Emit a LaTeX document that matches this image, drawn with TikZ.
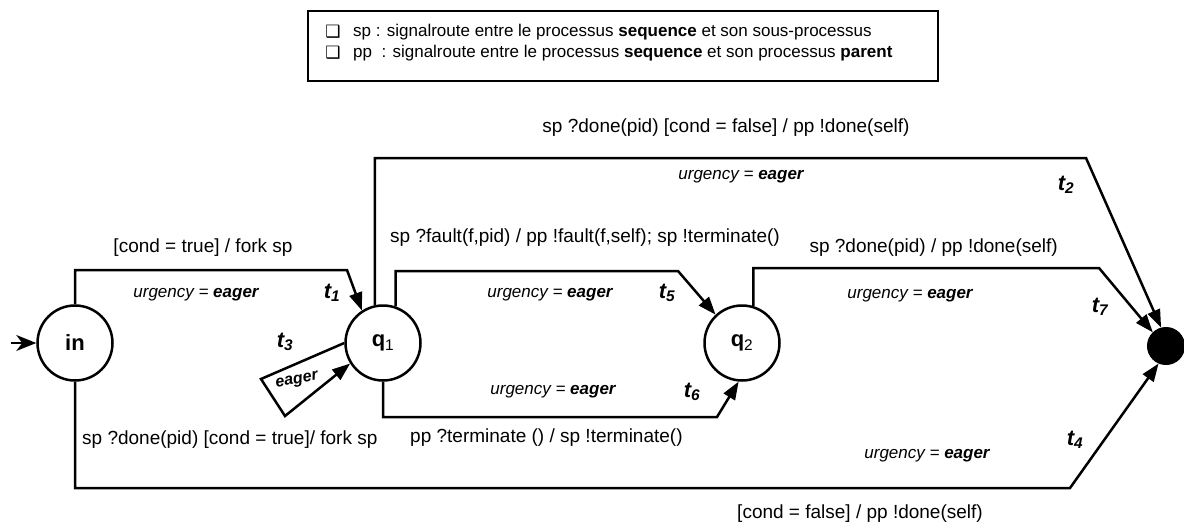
\documentclass[tikz,border=0pt]{standalone}
\usepackage{fontspec}
\setmainfont{Liberation Sans}
\newfontfamily\dejavu{DejaVu Sans}
\usetikzlibrary{arrows.meta}
\newcommand\tlab[1]{{\fontsize{22}{24}\selectfont\bfseries\itshape t\textsubscript{#1}}}
\begin{document}
\begin{tikzpicture}[x=1pt,y=-1pt,
  state/.style={circle,draw,line width=2.5pt,minimum size=75pt,inner sep=0pt,font=\fontsize{22}{24}\selectfont\bfseries},
  final/.style={circle,fill=black,draw,line width=1pt,minimum size=37pt,inner sep=0pt},
  tr/.style={line width=2.5pt,line join=miter,-{Triangle[length=18pt,width=13pt]}},
  lbl/.style={inner sep=0pt,font=\fontsize{19}{22}\selectfont},
  urg/.style={inner sep=0pt,font=\fontsize{17}{19}\selectfont\itshape},
  leg/.style={inner sep=0pt,anchor=west,font=\fontsize{17}{20}\selectfont},
  chk/.style={inner sep=0pt,font=\fontsize{17}{19}\selectfont\dejavu},
  tl/.style={inner sep=0pt}]
\useasboundingbox (0,0) rectangle (1184,525);

% legend
\node[draw,line width=1.5pt,minimum width=630pt,minimum height=70pt,inner sep=0pt] (legend) at (623,46) {};
\node[chk] (cb1) at (333,32) {❑};
\node[chk] (cb2) at (333,53) {❑};
\node[leg] (leg1) at (353,32) {sp : signalroute entre le processus \textbf{sequence} et son sous-processus};
\node[leg] (leg2) at (353,53) {pp\ \ : signalroute entre le processus \textbf{sequence} et son processus \textbf{parent}};

% states
\node[state] (in) at (75,343) {in};
\node[state] (q1) at (383,343) {q\textsubscript{\mdseries 1}};
\node[state] (q2) at (742,343) {q\textsubscript{\mdseries 2}};
\node[final] (fin) at (1166,346) {};

% initial arrow
\coordinate (start) at (11,343);
\draw[line width=1.5pt,-{Stealth[length=20pt,width=16pt,inset=6pt]}] (start) -- (in.west);

% bends
\coordinate (b1) at (347,270);
\coordinate (b2) at (1086,158);
\coordinate (b5) at (678,271);
\coordinate (b6) at (717,417);
\coordinate (b7) at (1099,268);
\coordinate (b4) at (1070,488);
\coordinate (l1) at (261,379);
\coordinate (l2) at (285,416);

% transitions
\draw[tr] (in.north) |- (b1) -- (q1.123);
\draw[tr] (q1.102) |- (b2) -- (fin.105);
\draw[tr] (q1.71) |- (b5) -- (q2.133);
\draw[tr] (q1.south) |- (b6) -- (q2.265);
\draw[tr] (q2.73) |- (b7) -- (fin.134);
\draw[tr] (in.south) |- (b4) -- (fin.247);
\draw[tr] (q1.west) -- (l1) -- (l2) -- (q1.212);

% labels
\node[lbl] (a1) at (203,248) {[cond = true] / fork sp};
\node[urg] (u1) at (196,295) {urgency = \textbf{eager}};
\node[tl] (t1) at (332,293) {\tlab{1}};

\node[tl] (t3) at (285,342) {\tlab{3}};
\node[inner sep=0pt,rotate=10,font=\fontsize{16}{18}\selectfont\bfseries\itshape] (e3) at (297,381) {eager};

\node[lbl] (a2) at (726,128) {sp ?done(pid) [cond = false] / pp !done(self)};
\node[urg] (u2) at (741,177) {urgency = \textbf{eager}};
\node[tl] (t2) at (1066,185) {\tlab{2}};

\node[lbl,anchor=west] (a5) at (390,238) {sp ?fault(f,pid) / pp !fault(f,self); sp !terminate()};
\node[urg] (u5) at (550,295) {urgency = \textbf{eager}};
\node[tl] (t5) at (667,293) {\tlab{5}};

\node[urg] (u6) at (553,392) {urgency = \textbf{eager}};
\node[tl] (t6) at (692,392) {\tlab{6}};
\node[lbl,anchor=west] (a6) at (410,438) {pp ?terminate () / sp !terminate()};

\node[lbl,anchor=west] (a4b) at (82,440) {sp ?done(pid) [cond = true]/ fork sp};

\node[lbl,anchor=east] (a7) at (1058,248) {sp ?done(pid) / pp !done(self)};
\node[urg] (u7) at (910,296) {urgency = \textbf{eager}};
\node[tl] (t7) at (1100,307) {\tlab{7}};

\node[tl] (t4) at (1075,440) {\tlab{4}};
\node[urg] (u4) at (927,456) {urgency = \textbf{eager}};
\node[lbl] (a4) at (860,514) {[cond = false] / pp !done(self)};
\end{tikzpicture}
\end{document}
